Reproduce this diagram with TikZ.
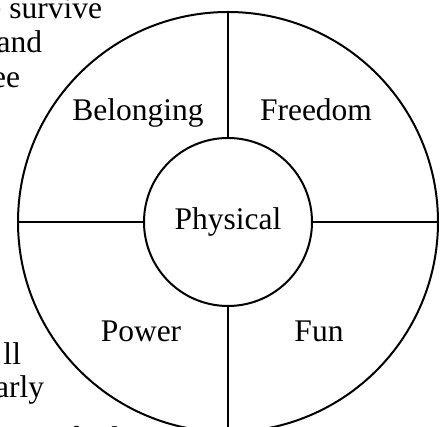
\documentclass[tikz,border=0pt]{standalone}
\usepackage{fontspec}
\setmainfont{Liberation Serif}
\usetikzlibrary{positioning}

\begin{document}
\begin{tikzpicture}[x=0.5pt, y=0.5pt, line width=1pt,
  font=\fontsize{15.75}{19}\selectfont,
  ring/.style={circle, draw, inner sep=0pt}]
  \useasboundingbox (0,0) rectangle (446,427);

  % Surrounding paragraph, cut off at the left edge
  \node[anchor=base east, inner sep=0pt] (txt1) at (103, 408) {e survive};
  \node[anchor=base east, inner sep=0pt] (txt2) at (43, 374) {and};
  \node[anchor=base east, inner sep=0pt] (txt3) at (21, 339) {ee};
  \node[anchor=base east, inner sep=0pt] (txt4) at (22, 62) {ll};
  \node[anchor=base east, inner sep=0pt] (txt5) at (45, 29) {arly};
  \node[anchor=base east, inner sep=0pt] (txt6) at (120, -22) {nts to find};

  % Rings
  \node[ring, minimum size=210pt] (outer) at (228, 205) {};
  \node[ring, minimum size=84pt] (phys) at (228, 205) {Physical};

  % Spokes
  \draw (outer.north) -- (phys.north);
  \draw (phys.south) -- (outer.south);
  \draw (outer.west) -- (phys.west);
  \draw (phys.east) -- (outer.east);

  % Quadrant labels
  \node[anchor=base] (belong) at (138, 306) {Belonging};
  \node[anchor=base] (freedom) at (316, 306) {Freedom};
  \node[anchor=base] (power) at (141, 85) {Power};
  \node[anchor=base] (fun) at (319, 85) {Fun};
\end{tikzpicture}
\end{document}
